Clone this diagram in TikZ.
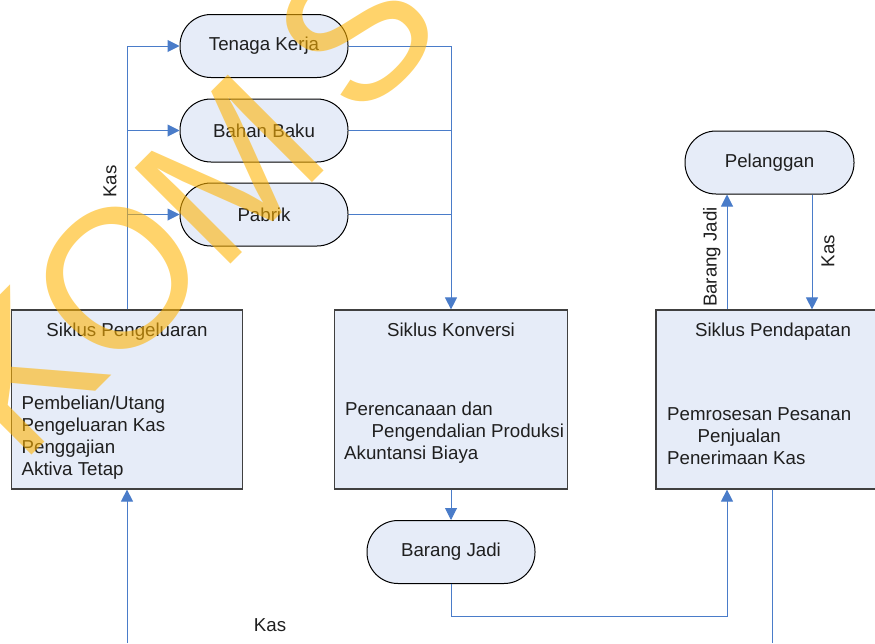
\documentclass[tikz,border=0pt]{standalone}
\usepackage{fontspec}
\setmainfont{Liberation Sans}
\usetikzlibrary{arrows.meta,calc}
\definecolor{boxfill}{HTML}{E6ECF8}
\definecolor{flow}{HTML}{4A7CC9}
\definecolor{wm}{HTML}{FFB300}
\begin{document}
\begin{tikzpicture}[x=1pt,y=-1pt,
  txt/.style={font=\fontsize{18.7}{22.3}\selectfont, text=black!88},
  pill/.style={draw=black, line width=1pt, fill=boxfill, rounded corners=31pt, minimum width=168pt, minimum height=63pt, inner sep=0pt, txt},
  cyclebox/.style={draw=black!75, line width=1.2pt, fill=boxfill, minimum width=233pt, minimum height=179pt, inner sep=0pt},
  flowline/.style={draw=flow, line width=1pt},
  arr/.style={flowline, -{Triangle[length=12pt,width=12pt]}},
  lbl/.style={txt, inner sep=0pt},
  wmark/.style={font=\fontsize{197}{197}\selectfont, text=wm, text opacity=0.58, rotate=45, inner sep=0pt}
]
\useasboundingbox (0,0) rectangle (875,643);
\clip (0,0) rectangle (875,643);

% nodes
\node[pill] (tk) at (264,46) {Tenaga Kerja};
\node[pill] (bb) at (264,130.5) {Bahan Baku};
\node[pill] (pb) at (264,214.5) {Pabrik};
\node[pill, minimum width=169pt] (pel) at (769.5,162.5) {Pelanggan};
\node[pill] (bj) at (451,552) {Barang Jadi};

\node[cyclebox, minimum width=231pt] (peng) at (127,399.5) {};
\node[cyclebox] (konv) at (451,399.5) {};
\node[cyclebox] (pend) at (772.5,399.5) {};

% texts in cycle boxes
\node[lbl, anchor=base] (t1) at (127,336.7) {Siklus Pengeluaran};
\node[lbl, anchor=base west] (t1a) at (21.5,409) {Pembelian/Utang};
\node[lbl, anchor=base west] (t1b) at (21.5,431.5) {Pengeluaran Kas};
\node[lbl, anchor=base west] (t1c) at (21.5,453.5) {Penggajian};
\node[lbl, anchor=base west] (t1d) at (21.5,475.7) {Aktiva Tetap};

\node[lbl, anchor=base] (t2) at (451,336.7) {Siklus Konversi};
\node[lbl, anchor=base west] (t2a) at (345,415) {Perencanaan dan};
\node[lbl, anchor=base west] (t2b) at (371.5,437) {Pengendalian Produksi};
\node[lbl, anchor=base west] (t2c) at (344,459) {Akuntansi Biaya};

\node[lbl, anchor=base] (t3) at (773,336.7) {Siklus Pendapatan};
\node[lbl, anchor=base west] (t3a) at (667,420.5) {Pemrosesan Pesanan};
\node[lbl, anchor=base west] (t3b) at (697.5,442.5) {Penjualan};
\node[lbl, anchor=base west] (t3c) at (667,464.5) {Penerimaan Kas};

% helper coordinates
\coordinate (c1) at (727,0);
\coordinate (c2) at (812,0);
\coordinate (pengIn) at (127,643);
\coordinate (pendOut) at (772.5,643);

% connectors: Siklus Pengeluaran -> resources
\draw[arr] (peng.north) |- (tk.west);
\draw[arr] (peng.north) |- (bb.west);
\draw[arr] (peng.north) |- (pb.west);
% resources -> Siklus Konversi
\draw[arr] (tk.east) -| (konv.north);
\draw[flowline] (bb.east) -- (bb.east -| konv.north);
\draw[flowline] (pb.east) -- (pb.east -| konv.north);
% Konversi -> Barang Jadi -> Pendapatan
\draw[arr] (konv.south) -- (bj.north);
\draw[arr] (bj.south) -- ++(0,32) -| (pend.south -| c1);
% Pendapatan <-> Pelanggan
\draw[arr] (pend.north -| c1) -- (pel.south -| c1);
\draw[arr] (pel.south -| c2) -- (pend.north -| c2);
% bottom lines
\draw[arr] (pengIn) -- (peng.south);
\draw[flowline] (pend.south) -- (pendOut);

% labels
\node[lbl, rotate=90] (kasL) at (110,181.5) {Kas};
\node[lbl, rotate=90] (bjL) at (711.7,257) {Barang Jadi};
\node[lbl, rotate=90] (kasR) at (828,251) {Kas};
\node[lbl] (kasB) at (270,625) {Kas};

% watermark
\node[wmark] (wK) at (19,372) {K};
\node[wmark] (wO) at (118,278) {O};
\node[wmark] (wM) at (230,170) {M};
\node[wmark] (wS) at (356,30) {S};
\end{tikzpicture}
\end{document}
